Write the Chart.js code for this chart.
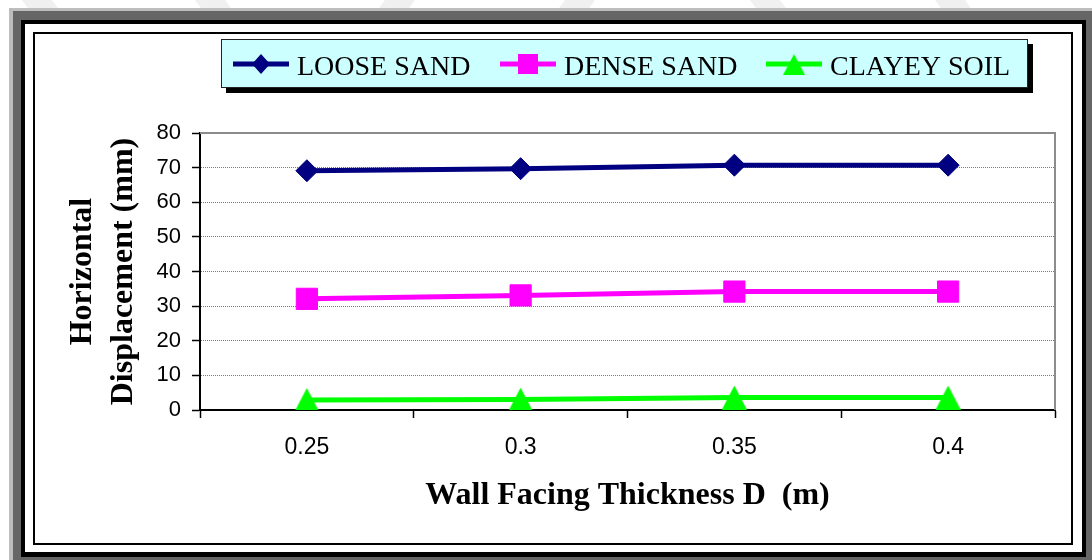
<!DOCTYPE html>
<html>
<head>
<meta charset="utf-8">
<title>Horizontal Displacement vs Wall Facing Thickness</title>
<script src="https://cdn.jsdelivr.net/npm/chart.js@4/dist/chart.umd.min.js"></script>
<style>
  html, body { margin: 0; padding: 0; background: #ffffff; }
  canvas { display: block; }
</style>
</head>
<body>
<canvas id="chart" width="1092" height="560"></canvas>
<script>
// Wall facing thickness D (m) on the x axis
const thicknessLabels = ['0.25', '0.3', '0.35', '0.4'];

// Horizontal displacement (mm) for each soil type
const looseSand = [69.1, 69.7, 70.7, 70.7];
const denseSand = [32.1, 33.1, 34.2, 34.2];
const clayeySoil = [2.9, 3.0, 3.6, 3.6];

const seriesNames = ['LOOSE SAND', 'DENSE SAND', 'CLAYEY SOIL'];

// y axis range and step
const yMin = 0;
const yMax = 80;
const yStep = 10;

const NAVY = '#000080';
const MAGENTA = '#FF00FF';
const GREEN = '#00FF00';

// triangle marker as a small canvas so it sits centred on the value
function makeTriangle(w, h, color) {
  const c = document.createElement('canvas');
  c.width = w; c.height = h;
  const g = c.getContext('2d');
  g.fillStyle = color;
  g.beginPath();
  g.moveTo(w / 2, 0);
  g.lineTo(w, h);
  g.lineTo(0, h);
  g.closePath();
  g.fill();
  return c;
}
const triangleMarker = makeTriangle(25, 24, GREEN);

// outer framed border and faint stripes above it
const framePlugin = {
  id: 'frame',
  beforeDraw(chart) {
    const ctx = chart.ctx;
    ctx.save();
    ctx.fillStyle = '#ffffff';
    ctx.fillRect(0, 0, chart.width, chart.height);

    ctx.fillStyle = '#f0f0f0';
    const stripes = [[22, 1], [195, 1], [385, -1], [565, -1], [750, 1], [935, 1]];
    stripes.forEach(([sx, dir]) => {
      ctx.beginPath();
      ctx.moveTo(sx, 0);
      ctx.lineTo(sx + 30, 0);
      ctx.lineTo(sx + 30 + dir * 22, 30);
      ctx.lineTo(sx + dir * 22, 30);
      ctx.closePath();
      ctx.fill();
    });

    ctx.fillStyle = '#bdbdbd';
    ctx.fillRect(9, 8, chart.width - 9, chart.height - 8);
    ctx.fillStyle = '#666666';
    ctx.fillRect(13, 11, chart.width - 13, chart.height - 11);
    ctx.fillStyle = '#000000';
    ctx.fillRect(21, 20, 1065, 537);
    ctx.fillStyle = '#ffffff';
    ctx.fillRect(25, 24, 1057, 528);
    ctx.strokeStyle = '#000000';
    ctx.lineWidth = 2;
    ctx.strokeRect(34, 33, 1038, 511);
    ctx.restore();
  },
  beforeDatasetsDraw(chart) {
    const {ctx, chartArea} = chart;
    ctx.save();
    ctx.strokeStyle = '#8c8c8c';
    ctx.lineWidth = 2;
    ctx.beginPath();
    ctx.moveTo(chartArea.left, chartArea.top);
    ctx.lineTo(chartArea.right, chartArea.top);
    ctx.lineTo(chartArea.right, chartArea.bottom);
    ctx.stroke();
    ctx.restore();
  }
};

// boxed legend with a drop shadow
const legendPlugin = {
  id: 'boxLegend',
  afterDraw(chart) {
    const ctx = chart.ctx;
    const box = {x: 221, y: 39, w: 807, h: 49};
    const starts = [233, 500, 766];
    const lineLen = 56;
    const rowY = 64;
    ctx.save();
    ctx.fillStyle = '#000000';
    ctx.fillRect(box.x + 5, box.y + 5, box.w, box.h);
    ctx.fillStyle = '#CCFFFF';
    ctx.fillRect(box.x, box.y, box.w, box.h);
    ctx.strokeStyle = '#222222';
    ctx.lineWidth = 1;
    ctx.strokeRect(box.x + 0.5, box.y + 0.5, box.w - 1, box.h - 1);

    chart.data.datasets.forEach((ds, i) => {
      const x0 = starts[i];
      const cx = x0 + lineLen / 2;
      ctx.strokeStyle = ds.borderColor;
      ctx.lineWidth = 5;
      ctx.beginPath();
      ctx.moveTo(x0, rowY);
      ctx.lineTo(x0 + lineLen, rowY);
      ctx.stroke();

      ctx.fillStyle = ds.borderColor;
      if (ds.pointStyle === 'rectRot') {
        ctx.beginPath();
        ctx.moveTo(cx, rowY - 10);
        ctx.lineTo(cx + 9, rowY);
        ctx.lineTo(cx, rowY + 10);
        ctx.lineTo(cx - 9, rowY);
        ctx.closePath();
        ctx.fill();
      } else if (ds.pointStyle === 'rect') {
        ctx.fillRect(cx - 10, rowY - 10, 20, 20);
      } else {
        ctx.drawImage(ds.pointStyle, cx - 11, rowY - 10, 22, 21);
      }

      ctx.fillStyle = '#000000';
      ctx.font = '28px "Liberation Serif", "Times New Roman", serif';
      ctx.textBaseline = 'alphabetic';
      ctx.textAlign = 'left';
      ctx.fillText(ds.label, x0 + lineLen + 8, 75);
    });
    ctx.restore();
  }
};

const ctx = document.getElementById('chart').getContext('2d');
new Chart(ctx, {
  type: 'line',
  data: {
    labels: thicknessLabels,
    datasets: [
      {
        label: seriesNames[0],
        data: looseSand,
        borderColor: NAVY,
        backgroundColor: NAVY,
        borderWidth: 5,
        pointStyle: 'rectRot',
        pointRadius: 11,
        pointHoverRadius: 11,
        pointBorderWidth: 1
      },
      {
        label: seriesNames[1],
        data: denseSand,
        borderColor: MAGENTA,
        backgroundColor: MAGENTA,
        borderWidth: 5,
        pointStyle: 'rect',
        pointRadius: 15,
        pointHoverRadius: 15,
        pointBorderWidth: 1
      },
      {
        label: seriesNames[2],
        data: clayeySoil,
        borderColor: GREEN,
        backgroundColor: GREEN,
        borderWidth: 5,
        pointStyle: triangleMarker,
        pointRadius: 12,
        pointHoverRadius: 12,
        pointBorderWidth: 0
      }
    ]
  },
  options: {
    responsive: false,
    animation: false,
    devicePixelRatio: 1,
    layout: { padding: { left: 40, right: 37, top: 133, bottom: 40 } },
    plugins: {
      legend: { display: false },
      tooltip: { enabled: false }
    },
    elements: { line: { tension: 0, fill: false } },
    scales: {
      x: {
        type: 'category',
        offset: true,
        afterFit(scale) { scale.height = 110; },
        grid: {
          display: true,
          offset: true,
          drawOnChartArea: false,
          drawTicks: true,
          tickLength: 8,
          tickColor: '#000000',
          tickWidth: 1.5
        },
        border: { display: true, color: '#000000', width: 2 },
        ticks: {
          color: '#000000',
          padding: 16,
          font: { family: '"Liberation Sans", Arial, sans-serif', size: 23 }
        },
        title: {
          display: true,
          text: 'Wall Facing Thickness D  (m)',
          color: '#000000',
          font: { family: '"Liberation Serif", "Times New Roman", serif', size: 32, weight: 'bold', lineHeight: 1.2 },
          padding: { top: 0, bottom: 5 }
        }
      },
      y: {
        min: yMin,
        max: yMax,
        afterFit(scale) { scale.width = 160; },
        ticks: {
          stepSize: yStep,
          color: '#000000',
          padding: 11,
          font: { family: '"Liberation Sans", Arial, sans-serif', size: 22 }
        },
        grid: {
          display: true,
          drawTicks: true,
          tickLength: 8,
          tickColor: '#000000',
          tickWidth: 1.5,
          lineWidth: 1,
          color: (c) => (c.tick && c.tick.value === yMin ? 'rgba(0,0,0,0)' : '#7a7a7a')
        },
        border: { display: true, color: '#000000', width: 2, dash: [1, 1] },
        title: {
          display: true,
          text: ['Horizontal', 'Displacement (mm)'],
          color: '#000000',
          font: { family: '"Liberation Serif", "Times New Roman", serif', size: 32, weight: 'bold', lineHeight: 1.28 },
          padding: { top: 22, bottom: 0 }
        }
      }
    }
  },
  plugins: [framePlugin, legendPlugin]
});
</script>
</body>
</html>
